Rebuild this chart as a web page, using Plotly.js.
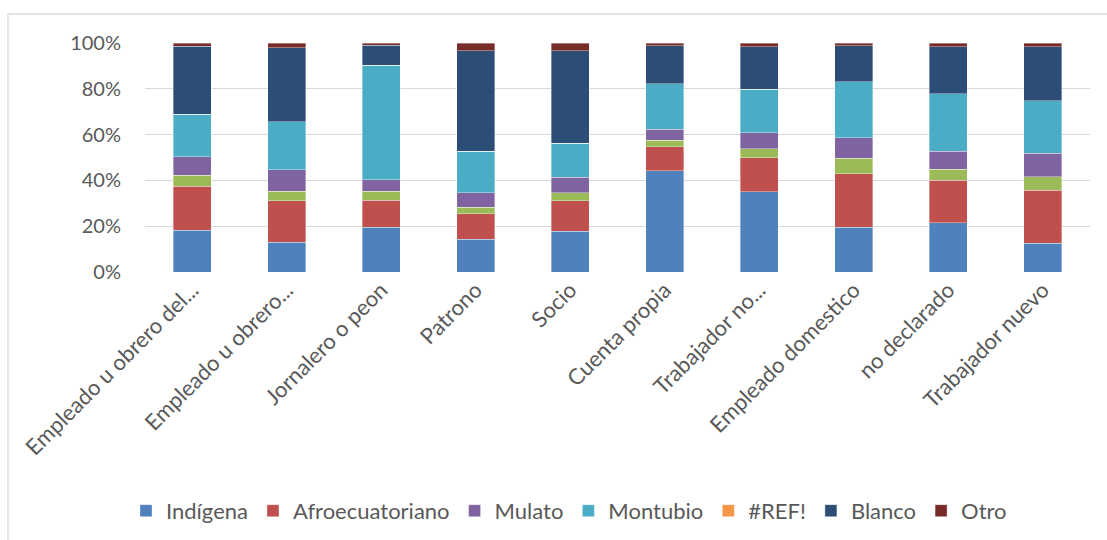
<!DOCTYPE html>
<html><head><meta charset="utf-8">
<script src="https://cdn.plot.ly/plotly-3.0.1.min.js"></script>
<style>body{margin:0;background:#fff}#c{width:1107px;height:540px}</style>
</head><body><div id="c"></div>
<script>
const categories = ["Empleado u obrero del...", "Empleado u obrero...", "Jornalero o peon", "Patrono", "Socio", "Cuenta propia", "Trabajador no...", "Empleado domestico", "no declarado", "Trabajador nuevo"];
const indigena = [18.2, 13.1, 19.5, 14.2, 17.7, 44.2, 35.0, 19.5, 21.4, 12.6];
const afroecuatoriano = [19.2, 18.0, 11.9, 11.2, 13.4, 10.5, 14.9, 23.4, 18.6, 23.2];
const sinLeyenda = [4.9, 4.2, 3.9, 2.9, 3.5, 2.9, 4.0, 6.7, 4.9, 5.9];
const mulato = [8.0, 9.3, 5.0, 6.3, 6.7, 4.8, 7.0, 9.0, 7.9, 10.2];
const montubio = [18.6, 21.1, 50.0, 18.2, 15.0, 19.9, 18.9, 24.5, 25.0, 22.8];
const ref = [0, 0, 0, 0, 0, 0, 0, 0, 0, 0];
const blanco = [29.6, 32.3, 8.8, 43.9, 40.4, 16.4, 18.6, 15.7, 20.5, 23.6];
const otro = [1.5, 2.0, 0.9, 3.3, 3.3, 1.3, 1.6, 1.2, 1.7, 1.7];
const tickVals = [0, 20, 40, 60, 80, 100];
const tickText = ["0%", "20%", "40%", "60%", "80%", "100%"];

const series = [
  {name: "Indígena", y: indigena, color: "#4F81BD", show: true},
  {name: "Afroecuatoriano", y: afroecuatoriano, color: "#C0504D", show: true},
  {name: "", y: sinLeyenda, color: "#9BBB59", show: false},
  {name: "Mulato", y: mulato, color: "#8064A2", show: true},
  {name: "Montubio", y: montubio, color: "#4BACC6", show: true},
  {name: "#REF!", y: ref, color: "#F79646", show: true},
  {name: "Blanco", y: blanco, color: "#2C4D75", show: true},
  {name: "Otro", y: otro, color: "#772C2A", show: true}
];
const font = "Lato, 'Open Sans', sans-serif";
const traces = series.map(s => ({
  type: "bar", x: categories, y: s.y, name: s.name, showlegend: s.show,
  marker: {color: s.color, line: {color: "rgba(255,255,255,0.6)", width: 0.6}},
  hoverinfo: "y+name"
}));
const layout = {
  width: 1107, height: 540, barmode: "stack", bargap: 0.6,
  paper_bgcolor: "#fff", plot_bgcolor: "#fff",
  margin: {l: 145, r: 17, t: 43, b: 268},
  font: {family: font, size: 20, color: "#595959"},
  xaxis: {tickangle: -45, tickfont: {size: 22, color: "#595959"}, showgrid: false, showline: false, ticks: "", automargin: false},
  yaxis: {range: [0, 100], tickvals: tickVals, ticktext: tickText, showgrid: true, gridcolor: "#D9D9D9", gridwidth: 1.3, zeroline: false, tickfont: {size: 20, color: "#595959"}, ticks: "", ticklabelstandoff: 23, automargin: false},
  legend: {orientation: "h", xref: "container", yref: "container", x: 0.514, xanchor: "center", y: 0.054, yanchor: "middle", traceorder: "normal", font: {size: 22, color: "#595959"}, itemwidth: 30},
  shapes: [{type: "rect", xref: "paper", yref: "paper", x0: -0.145, x1: 1.3, y0: -2, y1: 1.1266, line: {color: "#D9D9D9", width: 1.3}, fillcolor: "rgba(0,0,0,0)", layer: "below"}],
  showlegend: true
};
Plotly.newPlot("c", traces, layout, {displayModeBar: false, staticPlot: true});
</script></body></html>
